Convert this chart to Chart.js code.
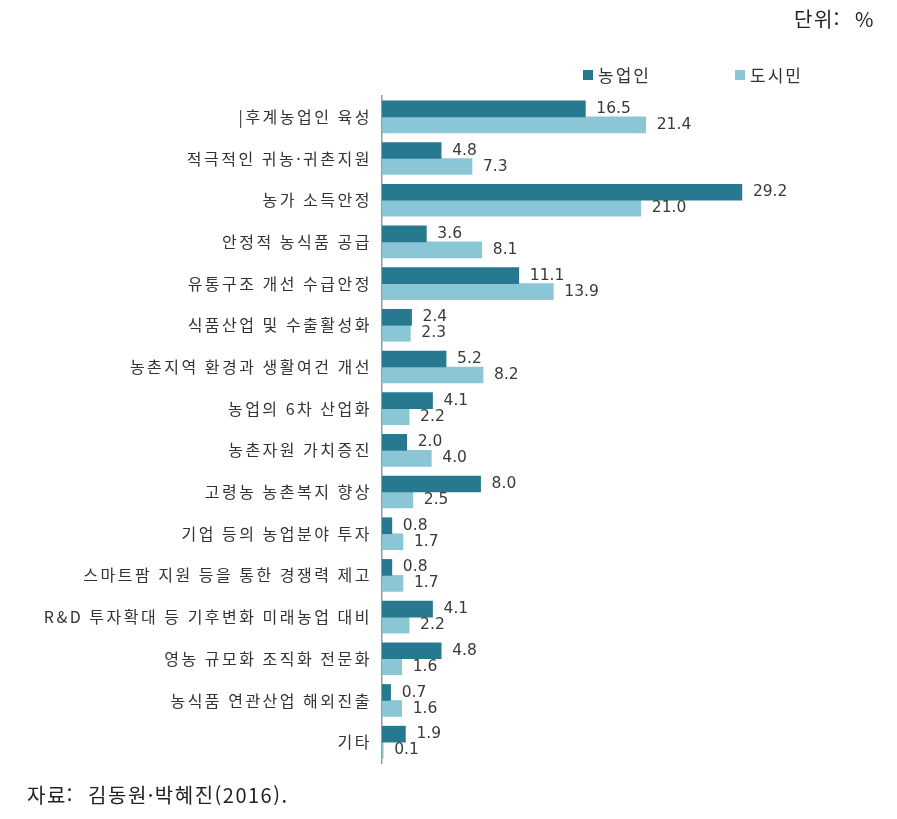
<!DOCTYPE html>
<html lang="ko">
<head>
<meta charset="utf-8">
<script src="https://cdn.jsdelivr.net/npm/chart.js@4/dist/chart.umd.min.js"></script>
<style>
  body { margin: 0; background: #fff; }
  #wrap { position: relative; width: 897px; height: 819px; }
  canvas { position: absolute; left: 0; top: 0; }
  .txt { position: absolute; font-family: "Noto Sans CJK KR", sans-serif; color: #222; white-space: nowrap; letter-spacing: 1.5px; }
  .leg { position: absolute; font-family: "Noto Sans CJK KR", sans-serif; font-size: 17px; color: #333; letter-spacing: 2px; top: 62px; }
  .leg i { display: inline-block; width: 10px; height: 10px; margin-right: 5px; vertical-align: 2px; }
</style>
</head>
<body>
<div id="wrap">
  <canvas id="grafico" width="897" height="819"></canvas>
  <div class="txt" style="left:794px; top:4px; font-size:20px;">단위:&nbsp;&nbsp;%</div>
  <div class="leg" style="left:583px;"><i style="background:#27798f"></i>농업인</div>
  <div class="leg" style="left:735px;"><i style="background:#8ac6d6"></i>도시민</div>
  <div class="txt" style="left:27px; top:780px; font-size:20px;">자료:&nbsp; 김동원·박혜진(2016).</div>
</div>
<script>
// 항목
const categorias = [
    '|후계농업인 육성', '적극적인 귀농·귀촌지원', '농가 소득안정', '안정적 농식품 공급',
    '유통구조 개선 수급안정', '식품산업 및 수출활성화', '농촌지역 환경과 생활여건 개선', '농업의 6차 산업화',
    '농촌자원 가치증진', '고령농 농촌복지 향상', '기업 등의 농업분야 투자', '스마트팜 지원 등을 통한 경쟁력 제고',
    'R&D 투자확대 등 기후변화 미래농업 대비', '영농 규모화 조직화 전문화', '농식품 연관산업 해외진출', '기타'
];
const nongeobin = [16.5, 4.8, 29.2, 3.6, 11.1, 2.4, 5.2, 4.1, 2.0, 8.0, 0.8, 0.8, 4.1, 4.8, 0.7, 1.9];
const dosimin = [21.4, 7.3, 21.0, 8.1, 13.9, 2.3, 8.2, 2.2, 4.0, 2.5, 1.7, 1.7, 2.2, 1.6, 1.6, 0.1];

// 글자 간격 (y축 라벨만)
const espaciado = {
    id: 'espaciado',
    beforeDraw(chart) { chart.ctx.letterSpacing = '2.5px'; },
    beforeDatasetsDraw(chart) { chart.ctx.letterSpacing = '0px'; }
};

// 막대 끝 값 표시
const etiquetas = {
    id: 'etiquetas',
    afterDatasetsDraw(chart) {
        const ctx = chart.ctx;
        ctx.save();
        ctx.font = '15.5px "DejaVu Sans"';
        ctx.fillStyle = '#3a3a3a';
        ctx.textAlign = 'left';
        ctx.textBaseline = 'middle';
        chart.data.datasets.forEach((ds, i) => {
            chart.getDatasetMeta(i).data.forEach((bar, j) => {
                ctx.fillText(ds.data[j].toFixed(1), bar.x + 11, bar.y);
            });
        });
        ctx.restore();
    }
};

new Chart(document.getElementById('grafico'), {
    type: 'bar',
    data: {
        labels: categorias,
        datasets: [
            { label: '농업인', data: nongeobin, backgroundColor: '#27798f', barThickness: 16 },
            { label: '도시민', data: dosimin, backgroundColor: '#8ac6d6', barThickness: 16 }
        ]
    },
    options: {
        indexAxis: 'y',
        responsive: false,
        animation: false,
        layout: { padding: { left: 0, right: 22, top: 96, bottom: 56 } },
        plugins: { legend: { display: false }, tooltip: { enabled: false } },
        scales: {
            x: { display: false, min: 0, max: 40 },
            y: {
                afterFit(s) { s.width = 382; },
                grid: { display: false, drawTicks: false },
                border: { display: true, color: '#9a9a9a', width: 1.5 },
                ticks: {
                    padding: 10,
                    color: '#333',
                    font: { family: '"Noto Sans CJK KR", sans-serif', size: 16 }
                }
            }
        }
    },
    plugins: [espaciado, etiquetas]
});
</script>
</body>
</html>
